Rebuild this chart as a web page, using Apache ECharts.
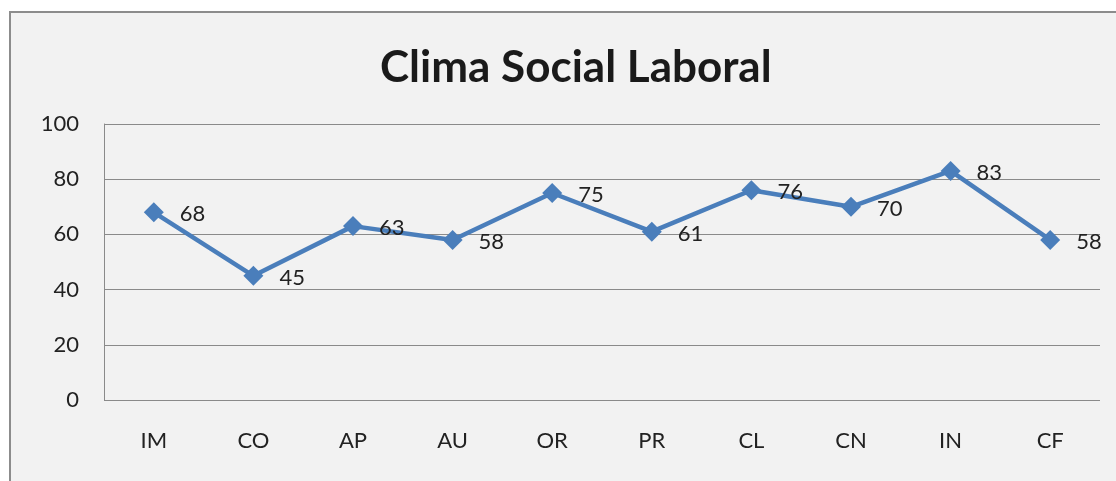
<!DOCTYPE html>
<html>
<head>
<meta charset="utf-8">
<script src="https://cdn.jsdelivr.net/npm/echarts@6/dist/echarts.min.js"></script>
<style>
    html, body { margin: 0; padding: 0; background: #ffffff; overflow: hidden; }
    #frame {
        position: absolute;
        left: 9px;
        top: 11px;
        width: 1120px;
        height: 480px;
        border: 2px solid #8c8c8c;
        background: #f2f2f2;
    }
    #chart { position: absolute; left: 0; top: 0; width: 1116px; height: 481px; }
</style>
</head>
<body>
<div id="frame"></div>
<div id="chart"></div>
<script>
// datos del grafico
var categorias = ['IM', 'CO', 'AP', 'AU', 'OR', 'PR', 'CL', 'CN', 'IN', 'CF'];
var valores = [68, 45, 63, 58, 75, 61, 76, 70, 83, 58];
var ejeY = { min: 0, max: 100, interval: 20 };

var chart = echarts.init(document.getElementById('chart'));
var fuente = 'Lato, "Open Sans", sans-serif';

var option = {
    backgroundColor: 'transparent',
    animation: false,
    title: {
        text: 'Clima Social Laboral',
        left: 375,
        top: 41,
        textStyle: {
            fontFamily: fuente,
            fontSize: 44,
            fontWeight: 'bold',
            color: '#1a1a1a'
        }
    },
    grid: {
        left: 104,
        right: 16,
        top: 124,
        bottom: 81
    },
    xAxis: {
        type: 'category',
        data: categorias,
        boundaryGap: true,
        axisLine: { show: false },
        axisTick: { show: false },
        axisLabel: {
            margin: 30,
            fontFamily: fuente,
            fontSize: 22,
            color: '#222'
        }
    },
    yAxis: {
        type: 'value',
        min: ejeY.min,
        max: ejeY.max,
        interval: ejeY.interval,
        axisLine: { show: true, lineStyle: { color: '#8a8a8a', width: 1 } },
        axisTick: { show: false },
        axisLabel: {
            margin: 25,
            fontFamily: fuente,
            fontSize: 22,
            color: '#222'
        },
        splitLine: { lineStyle: { color: '#8a8a8a', width: 1 } }
    },
    series: [{
        type: 'line',
        data: valores,
        symbol: 'diamond',
        symbolSize: 20,
        lineStyle: { color: '#4a7ebb', width: 4.5 },
        itemStyle: { color: '#4a7ebb' },
        label: {
            show: true,
            position: 'right',
            distance: 16,
            offset: [0, 2],
            fontFamily: fuente,
            fontSize: 22,
            color: '#222'
        }
    }]
};
chart.setOption(option);
</script>
</body>
</html>
